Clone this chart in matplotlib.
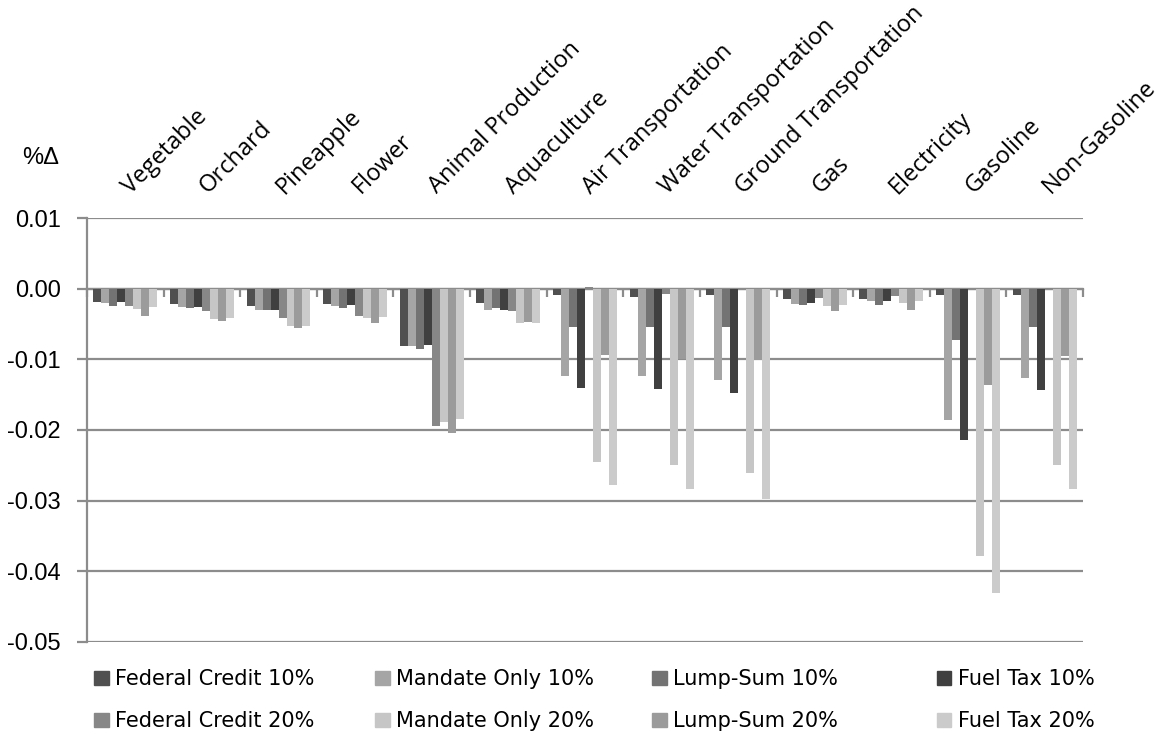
import numpy as np
import matplotlib
matplotlib.use("Agg")
import matplotlib.pyplot as plt
from matplotlib.patches import Patch
from matplotlib.transforms import ScaledTranslation

categories = ["Vegetable", "Orchard", "Pineapple", "Flower", "Animal Production",
              "Aquaculture", "Air Transportation", "Water Transportation",
              "Ground Transportation", "Gas", "Electricity", "Gasoline", "Non-Gasoline"]

federal_credit_10 = [-0.0019, -0.0021, -0.0024, -0.0022, -0.0081, -0.0020, -0.0009,
                     -0.0012, -0.0009, -0.0015, -0.0015, -0.0009, -0.0009]
mandate_only_10 = [-0.0020, -0.0026, -0.0030, -0.0024, -0.0081, -0.0030, -0.0123,
                   -0.0124, -0.0129, -0.0021, -0.0018, -0.0186, -0.0126]
lump_sum_10 = [-0.0025, -0.0028, -0.0030, -0.0027, -0.0086, -0.0028, -0.0054,
               -0.0054, -0.0054, -0.0023, -0.0023, -0.0072, -0.0054]
fuel_tax_10 = [-0.0019, -0.0026, -0.0030, -0.0023, -0.0080, -0.0030, -0.0141,
               -0.0142, -0.0148, -0.0020, -0.0017, -0.0214, -0.0144]
federal_credit_20 = [-0.0025, -0.0032, -0.0042, -0.0039, -0.0195, -0.0031, 0.0002,
                     -0.0008, 0.0000, -0.0013, -0.0011, 0.0000, 0.0001]
mandate_only_20 = [-0.0029, -0.0043, -0.0053, -0.0041, -0.0188, -0.0049, -0.0245,
                   -0.0249, -0.0261, -0.0024, -0.0020, -0.0379, -0.0250]
lump_sum_20 = [-0.0039, -0.0046, -0.0055, -0.0048, -0.0204, -0.0047, -0.0094,
               -0.0100, -0.0101, -0.0032, -0.0030, -0.0137, -0.0095]
fuel_tax_20 = [-0.0026, -0.0042, -0.0053, -0.0040, -0.0184, -0.0049, -0.0278,
               -0.0283, -0.0297, -0.0023, -0.0017, -0.0431, -0.0284]

series = [("Federal Credit 10%", federal_credit_10, "#505050"),
          ("Mandate Only 10%", mandate_only_10, "#a5a5a5"),
          ("Lump-Sum 10%", lump_sum_10, "#737373"),
          ("Fuel Tax 10%", fuel_tax_10, "#404040"),
          ("Federal Credit 20%", federal_credit_20, "#878787"),
          ("Mandate Only 20%", mandate_only_20, "#c6c6c6"),
          ("Lump-Sum 20%", lump_sum_20, "#9b9b9b"),
          ("Fuel Tax 20%", fuel_tax_20, "#cbcbcb")]

grid_col = "#8c8c8c"
sans = ["Liberation Sans", "DejaVu Sans"]

fig = plt.figure(figsize=(11.61, 7.38), dpi=100)
ax = fig.add_axes([0.0749, 0.1301, 0.8579, 0.5745])

x = np.arange(len(categories))
w = 0.1044
for k, (name, vals, col) in enumerate(series):
    ax.bar(x + (k - 3.5) * w, vals, width=w, color=col, label=name, zorder=3)

ax.set_xlim(-0.5, len(categories) - 0.5)
ax.set_ylim(-0.05, 0.01)
yt = np.arange(-0.05, 0.0101, 0.01)
ax.set_yticks(yt)
ax.set_yticklabels(["%.2f" % v for v in yt], fontsize=17, family=sans)
ax.yaxis.grid(True, color=grid_col, linewidth=1.6, zorder=0)
ax.tick_params(axis="y", length=7, width=1.6, color=grid_col, pad=12)

# category axis crosses at zero, ticks between groups
ax.spines["bottom"].set_position(("data", 0))
ax.spines["bottom"].set_color(grid_col)
ax.spines["bottom"].set_linewidth(1.6)
ax.spines["bottom"].set_zorder(2)
ax.set_xticks(np.arange(-0.5, len(categories), 1.0))
ax.set_xticklabels([])
ax.tick_params(axis="x", length=6, width=1.6, color=grid_col, direction="out")
ax.spines["left"].set_color(grid_col)
ax.spines["left"].set_linewidth(1.6)
ax.spines["top"].set_visible(False)
ax.spines["right"].set_visible(False)

top = ax.secondary_xaxis("top")
top.set_xticks(x)
top.set_xticklabels(categories, rotation=45, ha="left", rotation_mode="anchor",
                    fontsize=17, family=["Open Sans", "DejaVu Sans"])
top.tick_params(length=0, pad=14)
top.spines["top"].set_visible(False)
shift = ScaledTranslation(0.1, 0, fig.dpi_scale_trans)
for lab in top.get_xticklabels():
    lab.set_transform(lab.get_transform() + shift)

fig.text(0.0353, 0.786, "%Δ", fontsize=17, family=sans, ha="center", va="center")

# legend: four fixed-width columns, two rows
cols_x = [0.072, 0.314, 0.553, 0.798]
handles = [Patch(color=c) for _, _, c in series]
names = [n for n, _, _ in series]
for j in range(4):
    fig.legend([handles[j], handles[j + 4]], [names[j], names[j + 4]],
               loc="upper left", bbox_to_anchor=(cols_x[j], 0.107),
               frameon=False, handlelength=0.7, handleheight=0.7,
               handletextpad=0.3, labelspacing=1.05, borderpad=0,
               prop={"family": "DejaVu Sans", "size": 15})

fig.savefig("out.png", dpi=100)
